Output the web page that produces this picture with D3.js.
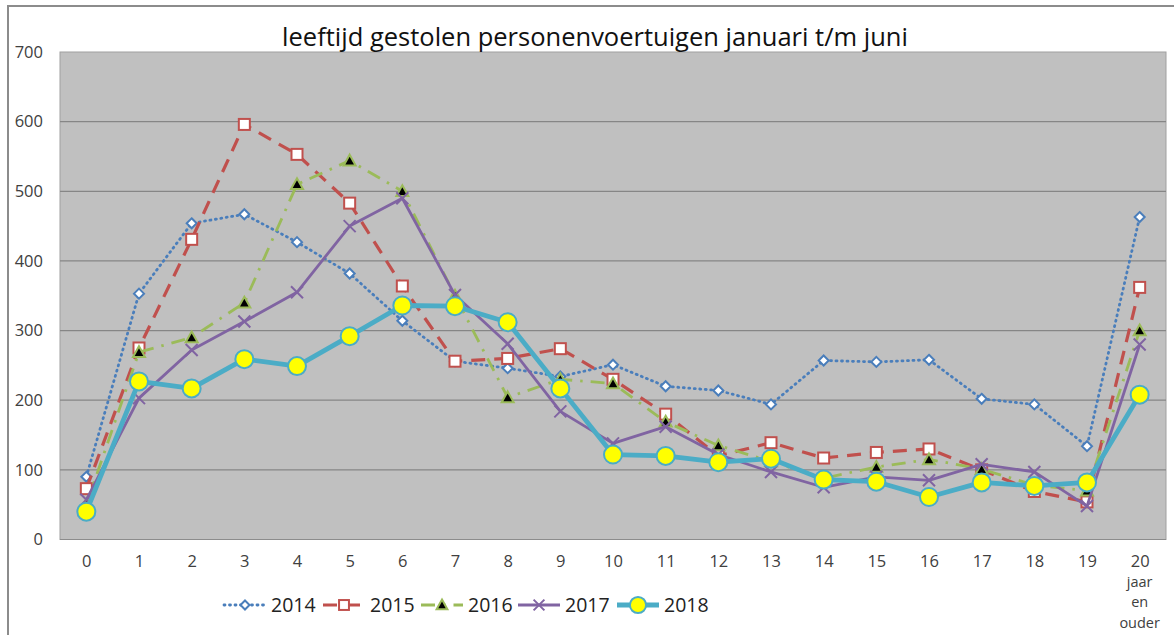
<!DOCTYPE html>
<html>
<head>
<meta charset="utf-8">
<script src="https://cdn.jsdelivr.net/npm/d3@7"></script>
<style>
  body { margin: 0; background: #fff; }
  text { font-family: "Open Sans", "Noto Sans", sans-serif; }
</style>
</head>
<body>
<div id="chart"></div>
<script>
// Data
const categories = ['0','1','2','3','4','5','6','7','8','9','10','11','12','13','14','15','16','17','18','19','20'];
const yTicks = [0, 100, 200, 300, 400, 500, 600, 700];
const years = ['2014', '2015', '2016', '2017', '2018'];
const v2014 = [90, 353, 454, 467, 427, 382, 314, 256, 246, 234, 251, 220, 214, 194, 257, 255, 258, 202, 194, 134, 463];
const v2015 = [73, 275, 431, 596, 553, 483, 364, 256, 260, 274, 230, 180, 120, 139, 117, 125, 130, 100, 69, 54, 362];
const v2016 = [50, 269, 290, 340, 510, 544, 500, 350, 204, 230, 224, 169, 135, 112, 88, 104, 115, 101, 78, 70, 300];
const v2017 = [57, 203, 272, 313, 355, 450, 490, 351, 281, 184, 138, 162, 122, 97, 75, 90, 85, 108, 97, 48, 280];
const v2018 = [40, 227, 217, 259, 249, 292, 336, 335, 312, 217, 122, 120, 111, 116, 86, 83, 61, 82, 77, 82, 208];

const seriesValues = [v2014, v2015, v2016, v2017, v2018];

const styles = {
  '2014': {color: '#4a7ebb', width: 2.8, dash: '1,4.5', cap: 'round', marker: 'diamond'},
  '2015': {color: '#c0504d', width: 3.2, dash: '14,9', cap: 'butt', marker: 'square'},
  '2016': {color: '#9bbb59', width: 2.8, dash: '14,8,2.5,8', cap: 'butt', marker: 'triangle'},
  '2017': {color: '#8064a2', width: 2.8, dash: null, cap: 'butt', marker: 'x'},
  '2018': {color: '#4bacc6', width: 4.8, dash: null, cap: 'butt', marker: 'circle'}
};

const W = 1174, H = 635;
const plot = {left: 60, top: 52, right: 1166, bottom: 539.5};

const svg = d3.select('#chart').append('svg')
  .attr('width', W).attr('height', H);

// outer frame
svg.append('rect')
  .attr('x', 8).attr('y', 6).attr('width', W + 10).attr('height', H + 10)
  .attr('fill', '#fff').attr('stroke', '#8c8c8c').attr('stroke-width', 2);

// Scales
const x = d3.scalePoint().domain(categories).range([plot.left, plot.right]).padding(0.5);
const y = d3.scaleLinear().domain([0, 700]).range([plot.bottom, plot.top]);

// plot background
svg.append('rect')
  .attr('x', plot.left).attr('y', plot.top)
  .attr('width', plot.right - plot.left).attr('height', plot.bottom - plot.top)
  .attr('fill', '#c0c0c0').attr('stroke', '#a0a0a0').attr('stroke-width', 1);

// gridlines
svg.append('g').selectAll('line')
  .data(yTicks.filter(d => d > 0 && d < 700))
  .enter().append('line')
  .attr('x1', plot.left).attr('x2', plot.right)
  .attr('y1', d => y(d)).attr('y2', d => y(d))
  .attr('stroke', '#868686').attr('stroke-width', 1.2);

svg.append('line')
  .attr('x1', plot.left).attr('x2', plot.right)
  .attr('y1', y(0)).attr('y2', y(0))
  .attr('stroke', '#8c8c8c').attr('stroke-width', 1.2);

// y axis labels
const yAxis = d3.axisLeft(y).tickValues(yTicks).tickSize(0).tickPadding(0);
const gy = svg.append('g').attr('transform', 'translate(43,0)').call(yAxis);
gy.select('.domain').remove();
gy.selectAll('text').attr('font-size', 16.5).attr('fill', '#404040')
  .attr('font-family', '"Open Sans", sans-serif');

// x axis labels
const xAxis = d3.axisBottom(x).tickSize(0).tickPadding(0);
const gx = svg.append('g').attr('transform', 'translate(0,' + plot.bottom + ')').call(xAxis);
gx.select('.domain').remove();
gx.selectAll('text').attr('font-size', 16.5).attr('fill', '#404040')
  .attr('dy', null).attr('y', 27)
  .attr('font-family', '"Open Sans", sans-serif');

// extra lines under "20"
const extra = ['jaar', 'en', 'ouder'];
svg.append('g').selectAll('text')
  .data(extra).enter().append('text')
  .attr('x', x('20')).attr('y', (d, i) => plot.bottom + 47 + i * 20.5)
  .attr('text-anchor', 'middle').attr('font-size', 14.5).attr('fill', '#404040')
  .text(d => d);

// title
svg.append('text')
  .attr('x', 595).attr('y', 46)
  .attr('text-anchor', 'middle').attr('font-size', 25.5).attr('fill', '#111')
  .text('leeftijd gestolen personenvoertuigen januari t/m juni');

// marker drawer
function drawMarker(g, type, st, cx, cy, scale) {
  scale = scale || 1;
  if (type === 'diamond') {
    const s = 5 * scale;
    g.append('path').attr('d', `M${cx},${cy - s}L${cx + s},${cy}L${cx},${cy + s}L${cx - s},${cy}Z`)
      .attr('fill', '#fff').attr('stroke', st.color).attr('stroke-width', 2);
  } else if (type === 'square') {
    const s = 5.5 * scale;
    g.append('rect').attr('x', cx - s).attr('y', cy - s).attr('width', 2 * s).attr('height', 2 * s)
      .attr('fill', '#fff').attr('stroke', st.color).attr('stroke-width', 2);
  } else if (type === 'triangle') {
    const s = 6 * scale;
    g.append('path').attr('d', `M${cx},${cy - s}L${cx + s},${cy + s * 0.8}L${cx - s},${cy + s * 0.8}Z`)
      .attr('fill', '#000').attr('stroke', st.color).attr('stroke-width', 2);
  } else if (type === 'x') {
    const s = 6 * scale;
    g.append('path').attr('d', `M${cx - s},${cy - s}L${cx + s},${cy + s}M${cx - s},${cy + s}L${cx + s},${cy - s}`)
      .attr('stroke', st.color).attr('stroke-width', 2).attr('fill', 'none');
  } else if (type === 'circle') {
    g.append('circle').attr('cx', cx).attr('cy', cy).attr('r', 9 * scale)
      .attr('fill', '#ffff00').attr('stroke', st.color).attr('stroke-width', 2);
  }
}

// series
const line = d3.line().x((d, i) => x(categories[i])).y(d => y(d));

years.forEach((yr, k) => {
  const st = styles[yr];
  const vals = seriesValues[k];
  const g = svg.append('g').attr('class', 'series-' + yr);
  g.append('path')
    .datum(vals)
    .attr('d', line)
    .attr('fill', 'none')
    .attr('stroke', st.color)
    .attr('stroke-width', st.width)
    .attr('stroke-dasharray', st.dash)
    .attr('stroke-linecap', st.cap)
    .attr('stroke-linejoin', 'round');
  vals.forEach((v, i) => drawMarker(g, st.marker, st, x(categories[i]), y(v)));
});

// legend
const legendX = [224, 323, 421, 518, 617];
const legendY = 605;
const legend = svg.append('g');
years.forEach((yr, k) => {
  const st = styles[yr];
  const lx = legendX[k];
  legend.append('line')
    .attr('x1', lx).attr('x2', lx + 42)
    .attr('y1', legendY).attr('y2', legendY)
    .attr('stroke', st.color).attr('stroke-width', st.width)
    .attr('stroke-dasharray', st.dash).attr('stroke-linecap', st.cap);
  drawMarker(legend, st.marker, st, lx + 21, legendY, 0.9);
  legend.append('text')
    .attr('x', lx + 47).attr('y', legendY + 7)
    .attr('font-size', 19.5).attr('fill', '#222')
    .text(yr);
});
</script>
</body>
</html>
